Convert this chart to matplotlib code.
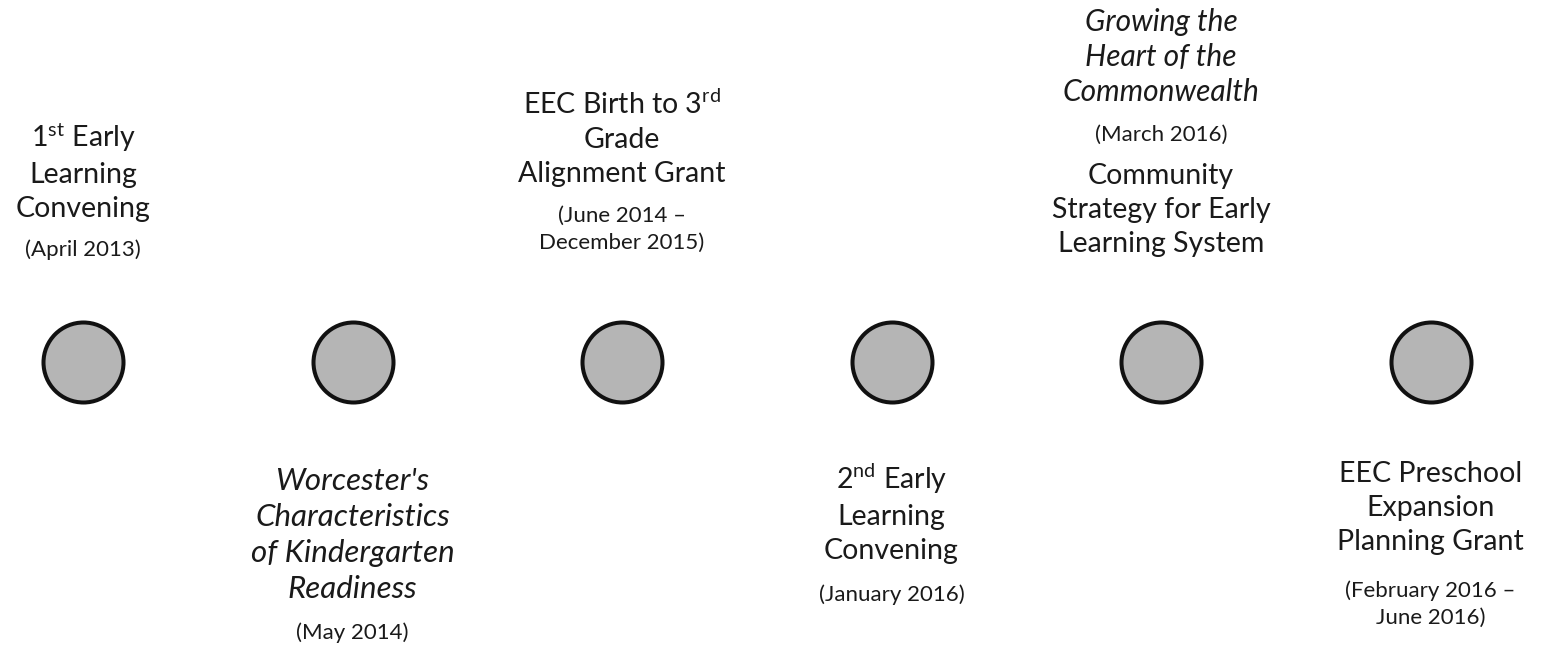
import matplotlib.pyplot as plt

plt.rcParams['font.family'] = ['Lato', 'DejaVu Sans']
plt.rcParams['mathtext.fontset'] = 'custom'
plt.rcParams['mathtext.rm'] = 'Lato'
plt.rcParams['mathtext.it'] = 'Lato:italic'

# timeline events (left to right)
events = [0, 1, 2, 3, 4, 5]
titles = [
    "1$^{\\mathrm{st}}$ Early\nLearning\nConvening",
    "Worcester's\nCharacteristics\nof Kindergarten\nReadiness",
    "EEC Birth to 3$^{\\mathrm{rd}}$\nGrade\nAlignment Grant",
    "2$^{\\mathrm{nd}}$ Early\nLearning\nConvening",
    "Community\nStrategy for Early\nLearning System",
    "EEC Preschool\nExpansion\nPlanning Grant",
]
dates = [
    "(April 2013)",
    "(May 2014)",
    "(June 2014 \u2013\nDecember 2015)",
    "(January 2016)",
    "(March 2016)",
    "(February 2016 \u2013\nJune 2016)",
]
italic_title = [False, True, False, False, False, False]
extra_title = "Growing the\nHeart of the\nCommonwealth"
extra_idx = 4

# vertical layout (pixels above circle centre)
title_y = [191, -173, 224, -151, 152, -146]
date_y = [112, -271, 133, -233, 227, -242]

fig = plt.figure(figsize=(15.41, 6.47), dpi=100)
ax = fig.add_axes([0, 0, 1, 1])
ax.set_xlim(-0.308, 5.41)
ax.set_ylim(-285, 362)
ax.axis('off')

ax.scatter(events, [0] * len(events), s=3318, color='#b5b5b5',
           edgecolors='#111111', linewidths=2.9, zorder=3)

for i in events:
    if italic_title[i]:
        ax.text(i, title_y[i], titles[i], ha='center', va='center', fontsize=22.5,
                style='italic', linespacing=1.36, color='#1a1a1a')
    else:
        ax.text(i, title_y[i], titles[i], ha='center', va='center', fontsize=20.5,
                linespacing=1.38, color='#1a1a1a')
    ax.text(i, date_y[i], dates[i], ha='center', va='center', fontsize=16,
            linespacing=1.45, color='#1a1a1a')

ax.text(extra_idx, 305, extra_title, ha='center', va='center', fontsize=21.5,
        style='italic', linespacing=1.29, color='#1a1a1a')

fig.savefig('out.png', dpi=100)
